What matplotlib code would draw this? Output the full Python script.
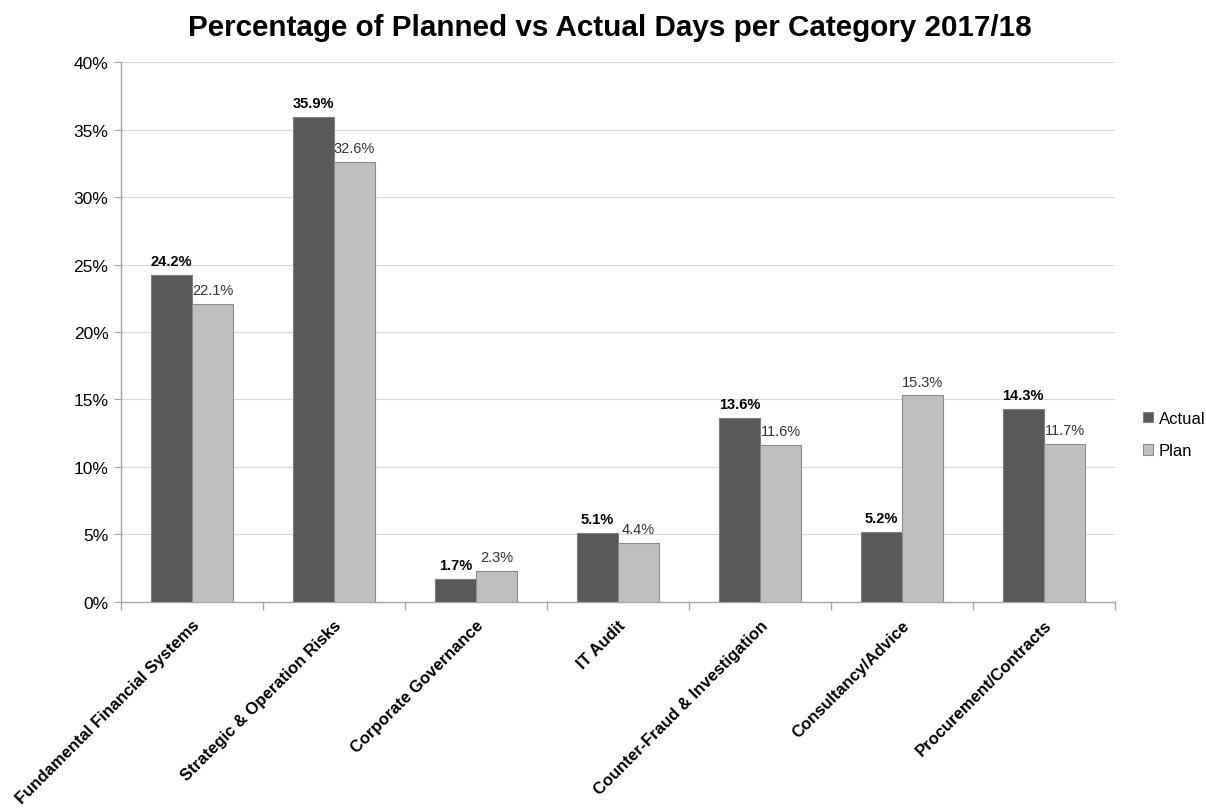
import matplotlib
matplotlib.use("Agg")
import matplotlib.pyplot as plt
import numpy as np
from matplotlib.ticker import FuncFormatter, FixedLocator

categories = [
    "Fundamental Financial Systems",
    "Strategic & Operation Risks",
    "Corporate Governance",
    "IT Audit",
    "Counter-Fraud & Investigation",
    "Consultancy/Advice",
    "Procurement/Contracts",
]
actual = [24.2, 35.9, 1.7, 5.1, 13.6, 5.2, 14.3]
plan = [22.1, 32.6, 2.3, 4.4, 11.6, 15.3, 11.7]

plt.rcParams["font.family"] = ["Liberation Sans", "DejaVu Sans"]

fig = plt.figure(figsize=(12.06, 8.12), dpi=100)
ax = fig.add_axes([0.1003, 0.2574, 0.8242, 0.665])

x = np.arange(len(categories))
w = 0.29
ax.bar(x - w / 2, actual, w, color="#595959", edgecolor="#7f7f7f", linewidth=0.8,
       label="Actual", zorder=3)
ax.bar(x + w / 2, plan, w, color="#bfbfbf", edgecolor="#8c8c8c", linewidth=0.8,
       label="Plan", zorder=3)

for xi, v in zip(x, actual):
    ax.annotate(f"{v:.1f}%", (xi - w / 2, v), xytext=(0, 5), textcoords="offset points",
                ha="center", va="bottom", fontsize=10.5, fontweight="bold", color="black")
for xi, v in zip(x, plan):
    ax.annotate(f"{v:.1f}%", (xi + w / 2, v), xytext=(0, 5), textcoords="offset points",
                ha="center", va="bottom", fontsize=10.5, color="#333333")

ax.set_xlim(-0.5, len(categories) - 0.5)
ax.set_ylim(0, 40)
ax.set_yticks(np.arange(0, 41, 5))
ax.yaxis.set_major_formatter(FuncFormatter(lambda v, p: f"{v:.0f}%"))
ax.grid(axis="y", color="#d9d9d9", linewidth=0.8, zorder=0)

ax.set_xticks(x)
ax.set_xticklabels(categories, rotation=45, ha="right", rotation_mode="anchor",
                   fontsize=12, fontweight="bold")
ax.tick_params(axis="x", length=0, pad=11)
ax.xaxis.set_minor_locator(FixedLocator(np.arange(-0.5, len(categories), 1.0)))
ax.tick_params(axis="x", which="minor", length=6, color="#a6a6a6", width=1)
ax.tick_params(axis="y", length=5, color="#a6a6a6", labelsize=12.5, pad=4)

for s in ["top", "right"]:
    ax.spines[s].set_visible(False)
for s in ["left", "bottom"]:
    ax.spines[s].set_color("#a6a6a6")
    ax.spines[s].set_linewidth(1)

ax.legend(loc="center left", bbox_to_anchor=(1.022, 0.31), frameon=False, fontsize=12,
          handlelength=0.6, handleheight=0.6, handletextpad=0.3, labelspacing=1.05,
          borderaxespad=0.0)

fig.text(0.506, 0.965, "Percentage of Planned vs Actual Days per Category 2017/18",
         ha="center", va="center", fontsize=21.3, fontweight="bold")

fig.savefig("out.png", dpi=100)
